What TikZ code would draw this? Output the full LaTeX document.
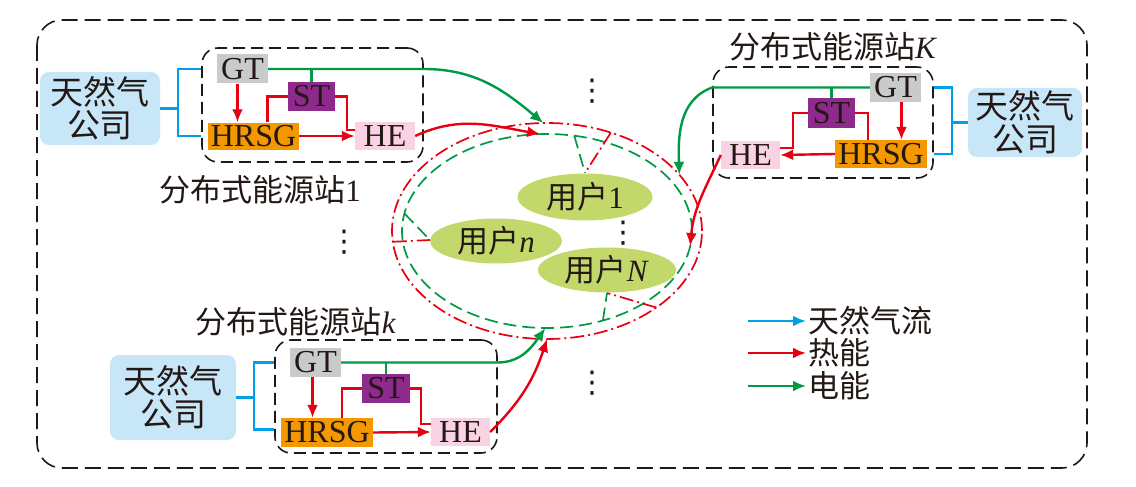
\documentclass[tikz,border=0pt]{standalone}
\usepackage{fontspec}
\setmainfont{Liberation Serif}
\newfontfamily\cjk{Noto Sans CJK SC}
\newfontfamily\symfont{DejaVu Sans}
\usetikzlibrary{arrows.meta,shapes.geometric,calc}
\definecolor{gasblue}{HTML}{00A0E9}
\definecolor{heatred}{HTML}{E60012}
\definecolor{powergreen}{HTML}{009944}
\definecolor{gasfill}{HTML}{C7E6F8}
\definecolor{gtgray}{HTML}{C9CACA}
\definecolor{stpurple}{HTML}{8F2A8D}
\definecolor{hrsgorange}{HTML}{F39800}
\definecolor{hepink}{HTML}{F9D3E3}
\definecolor{userfill}{HTML}{C3D86B}
\definecolor{inkblack}{HTML}{231815}

\begin{document}
\begin{tikzpicture}[
        x=1pt, y=-1pt,
        font=\fontsize{31}{35}\selectfont,
        text=inkblack,
        frame/.style={
          draw=inkblack,
          line width=1.6pt,
          dash pattern=on 16pt off 7pt,
          rounded corners=25pt
        },
        gascorp/.style={
          fill=gasfill,
          rounded corners=9pt,
          align=center,
          inner sep=0pt,
          font=\fontsize{33}{33}\selectfont\cjk
        },
        station/.style={
          draw=inkblack,
          line width=1.6pt,
          dash pattern=on 12pt off 6pt,
          rounded corners=16pt,
          inner sep=0pt
        },
        unit/.style={
          inner sep=0pt,
          minimum height=29pt,
          font=\fontsize{32}{35}\selectfont
        },
        user/.style={
          ellipse,
          fill=userfill,
          inner sep=0pt
        },
        ring/.style={
          ellipse,
          inner sep=0pt,
          outer sep=0pt
        },
        vdotsnode/.style={
          inner sep=0pt,
          font=\fontsize{30}{30}\selectfont\symfont
        },
        gasflow/.style={gasblue, line width=2.4pt},
        heat/.style={heatred, line width=2.4pt},
        power/.style={powergreen, line width=2.4pt},
        heatring/.style={heatred, line width=1.7pt, dash pattern=on 14pt off 4pt on 2pt off 4pt},
        powerring/.style={powergreen, line width=1.7pt, dash pattern=on 13pt off 6pt},
        flowarrow/.style={-{Latex[length=13pt,width=11pt]}},
        legtext/.style={anchor=west, inner sep=2pt, font=\fontsize{31}{35}\selectfont\cjk}
      ]

      \useasboundingbox (0,0) rectangle (1136,487);
      \draw[frame] (37,20) rectangle (1087,468);

      \node[ring, draw=heatred, heatring, minimum width=310, minimum height=216] (outer) at (547,231) {};
      \node[ring, draw=powergreen, powerring, minimum width=290, minimum height=194] (inner) at (547,231) {};

      \draw[powerring] (inner.74) -- (585,173) coordinate (u1top);
      \draw[heatring] (outer.57) -- (u1top);
      \draw[powerring] (inner.173) -- (430,240) coordinate (unleft);
      \draw[heatring] (outer.184) -- (unleft);
      \draw[powerring] (inner.-58) -- (607,293) coordinate (uNbot);
      \draw[heatring] (outer.-35) -- (uNbot);

      \node[user, minimum width=135, minimum height=47] (u1) at (585,197) {{\cjk 用户}1};
      \node[user, minimum width=132, minimum height=45] (un) at (496,241) {{\cjk 用户}\textit{n}};
      \node[user, minimum width=138, minimum height=45] (uN) at (607,270) {{\cjk 用户}\textit{N}};

      \node[vdotsnode] (dtop) at (592,91) {⋮};
      \node[vdotsnode] (dleft) at (344,242) {⋮};
      \node[vdotsnode] (dmid) at (623,233) {⋮};
      \node[vdotsnode] (dbot) at (592,383) {⋮};

      % station 1
      \node[gascorp, minimum width=120, minimum height=73] (gas1) at (100,108.5) {天然气\\公司};
      \node[station, minimum width=221, minimum height=114] (box1) at (312.5,105) {};
      \node[unit, fill=gtgray, minimum width=51] (gt1) at (242.5,69) {GT};
      \node[unit, fill=stpurple, minimum width=47] (st1) at (311.5,96.5) {ST};
      \node[unit, fill=hrsgorange, minimum width=91, minimum height=27] (hrsg1) at (253.5,136) {HRSG};
      \node[unit, fill=hepink, minimum width=60, minimum height=28] (he1) at (385,136) {HE};
      \node (lab1) at (260,190) {{\cjk 分布式能源站}1};

      \draw[gasflow] (gas1.east) -- ++(18,0) coordinate (j1) |- (box1.west |- gt1.east);
      \draw[gasflow] (j1) |- (box1.west |- hrsg1.east);
      \draw[power] (st1.north) -- (st1.north |- gt1.east);
      \draw[power, flowarrow] (gt1.east) -- (box1.east |- gt1.east) to[out=0, in=140] (outer.92);
      \draw[heat, flowarrow] ($(gt1.south)+(-5,0)$) coordinate (a1) -- (a1 |- hrsg1.north);
      \draw[heat, flowarrow] (hrsg1.east) -- (he1.west);
      \draw[heat] ($(hrsg1.north)+(14,0)$) |- (st1.west);
      \draw[heat] (st1.east) -- ++(12,0) |- ($(he1.west)+(0,-6)$);
      \draw[heat, flowarrow] (he1.east) to[out=25, in=170] (inner.94);

      % station K
      \node[gascorp, minimum width=114, minimum height=69] (gasK) at (1025,122.5) {天然气\\公司};
      \node[station, minimum width=220, minimum height=111] (boxK) at (823,122.5) {};
      \node[unit, fill=gtgray, minimum width=51] (gtK) at (895.5,87.5) {GT};
      \node[unit, fill=stpurple, minimum width=47, minimum height=30] (stK) at (831.5,113) {ST};
      \node[unit, fill=hrsgorange, minimum width=92, minimum height=28] (hrsgK) at (881,154) {HRSG};
      \node[unit, fill=hepink, minimum width=59, minimum height=28] (heK) at (750.5,155) {HE};
      \node (labK) at (833,47) {{\cjk 分布式能源站}\textit{K}};

      \draw[gasflow] (gasK.west) -- ++(-16,0) coordinate (jK) |- (boxK.east |- gtK.east);
      \draw[gasflow] (jK) |- (boxK.east |- hrsgK.east);
      \draw[power] (stK.north) -- (stK.north |- gtK.west);
      \draw[power, flowarrow] (gtK.west) -- (boxK.west |- gtK.west) to[out=200, in=92] (outer.23);
      \draw[heat, flowarrow] ($(gtK.south)+(6,0)$) coordinate (aK) -- (aK |- hrsgK.north);
      \draw[heat, flowarrow] (hrsgK.west) -- (heK.east);
      \draw[heat] ($(hrsgK.north)+(-13,0)$) |- (stK.east);
      \draw[heat] (stK.west) -- ++(-15,0) |- ($(heK.east)+(0,-7)$);
      \draw[heat, flowarrow] (heK.west) to[out=-115, in=85] (inner.-6);

      % station k
      \node[gascorp, minimum width=126, minimum height=85] (gask) at (173,397.5) {天然气\\公司};
      \node[station, minimum width=222, minimum height=113] (boxk) at (386,396.5) {};
      \node[unit, fill=gtgray, minimum width=51] (gtk) at (315.5,362.5) {GT};
      \node[unit, fill=stpurple, minimum width=48] (stk) at (386,388.5) {ST};
      \node[unit, fill=hrsgorange, minimum width=92] (hrsgk) at (327,432.5) {HRSG};
      \node[unit, fill=hepink, minimum width=59, minimum height=28] (hek) at (460.5,432) {HE};
      \node (labk) at (296,322) {{\cjk 分布式能源站}\textit{k}};

      \draw[gasflow] (gask.east) -- ++(18,0) coordinate (jk) |- (boxk.west |- gtk.east);
      \draw[gasflow] (jk) |- ($(boxk.west |- hrsgk.east)+(0,-3)$);
      \draw[power] (stk.north) -- (stk.north |- gtk.east);
      \draw[power, flowarrow] (gtk.east) -- (boxk.east |- gtk.east) to[out=0, in=235] (inner.-91);
      \draw[heat, flowarrow] ($(gtk.south)+(-3,0)$) coordinate (ak) -- (ak |- hrsgk.north);
      \draw[heat, flowarrow] (hrsgk.east) -- (hek.west);
      \draw[heat] ($(hrsgk.north)+(15,0)$) |- (stk.west);
      \draw[heat] (stk.east) -- ++(11,0) |- ($(hek.west)+(0,-8)$);
      \draw[heat, flowarrow] (hek.east) to[out=45, in=252] (outer.-90);

      % legend
      \node[legtext] (leg1) at (806,321) {天然气流};
      \node[legtext] (leg2) at (806,353) {热能};
      \node[legtext] (leg3) at (806,386) {电能};
      \coordinate (lg1) at (748,321);
      \coordinate (lg2) at (748,353);
      \coordinate (lg3) at (748,386);
      \draw[gasflow, flowarrow] (lg1) -- (leg1.west);
      \draw[heat, flowarrow] (lg2) -- (leg2.west);
      \draw[power, flowarrow] (lg3) -- (leg3.west);

      \end{tikzpicture}
\end{document}
